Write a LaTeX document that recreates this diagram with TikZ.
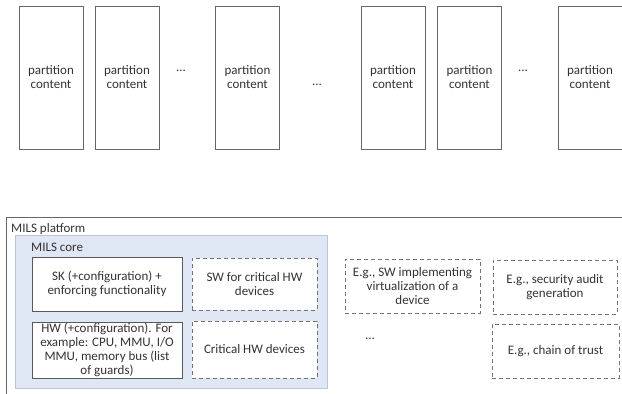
\documentclass[tikz,border=0pt]{standalone}
\usepackage{fontspec}
\setmainfont{Carlito}
\begin{document}
\begin{tikzpicture}[x=1pt,y=-1pt,
  txt/.style={font=\fontsize{13}{14}\selectfont, text=black!80, align=center, inner sep=0pt},
  part/.style={draw=black!60, line width=0.8pt, minimum width=64pt, minimum height=143pt, txt},
  solidbox/.style={draw=black!65, line width=0.9pt, txt},
  dashbox/.style={draw=black!55, line width=0.8pt, dash pattern=on 4pt off 3pt, txt},
  dotsty/.style={txt}
]
\useasboundingbox (0,0) rectangle (622,394);
% top partitions
\node[part] (p1) at (51,77.5) {partition\\content};
\node[part] (p2) at (127,77.5) {partition\\content};
\node[dotsty] (d1) at (181,71) {...};
\node[part] (p3) at (247.5,77.5) {partition\\content};
\node[dotsty] (d2) at (317,85) {...};
\node[part] (p4) at (393,77.5) {partition\\content};
\node[part] (p5) at (469.5,77.5) {partition\\content};
\node[dotsty] (d3) at (523,71) {...};
\node[part] (p6) at (590,77.5) {partition\\content};
% platform
\draw[black!60, line width=0.9pt] (623,217) -- (6,217) -- (6,395);
\node[txt, anchor=west] (plat) at (11,229) {MILS platform};
% core
\draw[fill={rgb,255:red,222;green,231;blue,243}, draw={rgb,255:red,185;green,198;blue,216}, line width=0.7pt] (15,235) rectangle (327,388);
\node[txt, anchor=west] (core) at (31,247) {MILS core};
\node[solidbox, fill=white, minimum width=150pt, minimum height=54pt] (sk) at (107,284) {SK (+configuration) +\\enforcing functionality};
\node[solidbox, fill=white, minimum width=150pt, minimum height=56pt] (hw) at (107,350) {HW (+configuration). For\\example: CPU, MMU, I/O\\MMU, memory bus (list\\of guards)};
\node[dashbox, fill=white, minimum width=125pt, minimum height=52pt] (swc) at (254.5,284) {SW for critical HW\\devices};
\node[dashbox, fill=white, minimum width=125pt, minimum height=57pt] (chw) at (254.5,349.5) {Critical HW devices};
% outside core
\node[dashbox, minimum width=135pt, minimum height=54pt] (virt) at (412.5,286) {E.g., SW implementing\\virtualization of a\\device};
\node[dotsty] (d4) at (370,339) {...};
\node[dashbox, minimum width=124pt, minimum height=54pt] (audit) at (555,287) {E.g., security audit\\generation};
\node[dashbox, minimum width=127pt, minimum height=54pt] (trust) at (555.5,351) {E.g., chain of trust};
\end{tikzpicture}
\end{document}
